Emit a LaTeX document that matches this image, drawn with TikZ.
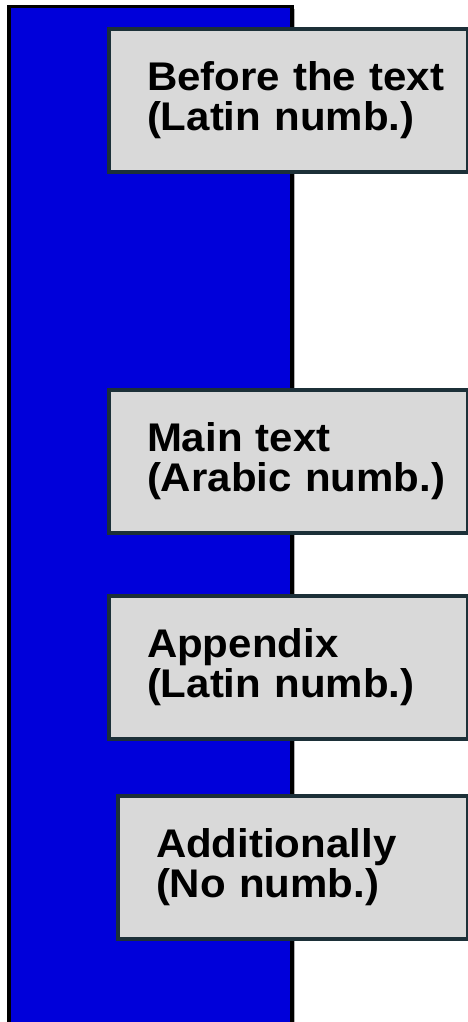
\documentclass[tikz,border=0pt]{standalone}
\usepackage{fontspec}
\setmainfont{Liberation Sans}[FakeStretch=1.05]
\definecolor{bandblue}{RGB}{0,0,218}
\definecolor{boxgray}{RGB}{217,217,217}
\definecolor{boxedge}{RGB}{28,48,56}
\begin{document}
\begin{tikzpicture}[x=1pt,y=-1pt,
  labelbox/.style={draw=boxedge, fill=boxgray, line width=4pt,
    minimum height=143pt, inner xsep=38pt, inner ysep=0pt,
    align=left, anchor=north west, text width=#1,
    font=\fontsize{40}{40}\selectfont\bfseries}]
\useasboundingbox (0,0) rectangle (468,1022);
% blue band
\fill[bandblue] (9,6.5) rectangle (292,1030);
\draw[black!30, line width=1.2pt] (294.6,9) -- (294.6,1030);
\draw[black, line width=3.5pt] (9,1030) -- (9,6.5) -- (292,6.5) -- (292,1030);
% boxes
\node[labelbox=283pt] (before) at (107,27) {\mbox{Before the text}\\\mbox{(Latin numb.)}};
\node[labelbox=283pt] (main) at (107,388) {\mbox{Main text}\\\mbox{(Arabic numb.)}};
\node[labelbox=283pt] (appendix) at (107,594) {\mbox{Appendix}\\\mbox{(Latin numb.)}};
\node[labelbox=274pt] (additionally) at (116,794) {\mbox{Additionally}\\\mbox{(No numb.)}};
\end{tikzpicture}
\end{document}
